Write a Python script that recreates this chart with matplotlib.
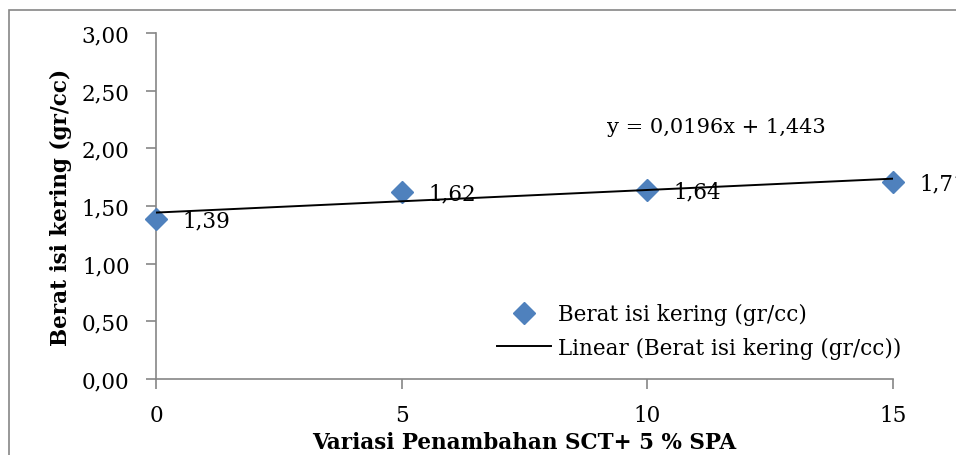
import matplotlib.pyplot as plt
import numpy as np
from matplotlib.patches import Rectangle

plt.rcParams["font.family"] = ["DejaVu Serif"]

variasi = [0, 5, 10, 15]
berat_isi = [1.39, 1.62, 1.64, 1.71]
y_ticks = [0.0, 0.5, 1.0, 1.5, 2.0, 2.5, 3.0]
x_ticks = [0, 5, 10, 15]

blue = "#4F81BD"
grey = "#868686"

fig = plt.figure(figsize=(9.56, 4.56), dpi=100)
fig.patches.append(Rectangle((9 / 956, -0.1), 1.1, 1 - 11 / 456 + 0.1, transform=fig.transFigure,
                             fill=False, edgecolor=grey, linewidth=1.2))
ax = fig.add_axes([156 / 956, 1 - 380 / 456, 737 / 956, 346 / 456])

slope, intercept = np.polyfit(variasi, berat_isi, 1)
xs = np.array([variasi[0], variasi[-1]])
ax.plot(variasi, berat_isi, linestyle="none", marker="D", markersize=11.5, color=blue,
        label="Berat isi kering (gr/cc)", zorder=3, clip_on=False)
ax.plot(xs, slope * xs + intercept, color="black", linewidth=1.4,
        label="Linear (Berat isi kering (gr/cc))", zorder=4)

for x, y in zip(variasi, berat_isi):
    ax.annotate(f"{y:.2f}".replace(".", ","), (x, y), xytext=(19, -1), textcoords="offset points",
                va="center", ha="left", fontsize=15.5)

ax.text(9.18, 2.185, f"y = {slope:.4f}x + {intercept:.3f}".replace(".", ","),
        fontsize=15, va="center", ha="left")

ax.set_xlim(0, 15)
ax.set_ylim(0, 3)
ax.set_xticks(x_ticks)
ax.set_xticklabels([str(v) for v in x_ticks])
ax.set_yticks(y_ticks)
ax.set_yticklabels([f"{v:.2f}".replace(".", ",") for v in y_ticks])
ax.tick_params(axis="both", direction="out", length=7, width=1.2, color=grey, labelsize=15.5)
ax.tick_params(axis="x", pad=11)
ax.tick_params(axis="y", pad=12)
for side in ["top", "right"]:
    ax.spines[side].set_visible(False)
for side in ["left", "bottom"]:
    ax.spines[side].set_color(grey)
    ax.spines[side].set_linewidth(1.2)

ax.set_ylabel("Berat isi kering (gr/cc)", fontsize=15.5, fontweight="bold")
ax.yaxis.set_label_coords(-0.114, 0.5)
fig.text(524 / 956, 1 - 443 / 456, "Variasi Penambahan SCT+ 5 % SPA", fontsize=15.5,
         fontweight="bold", ha="center", va="center")

ax.legend(loc="center left", bbox_to_anchor=(497 / 956, 1 - 332 / 456), bbox_transform=fig.transFigure,
          frameon=False, fontsize=15.5, handlelength=2.5, handletextpad=0.35, labelspacing=0.55,
          borderpad=0, borderaxespad=0)

fig.savefig("out.png", dpi=100)
